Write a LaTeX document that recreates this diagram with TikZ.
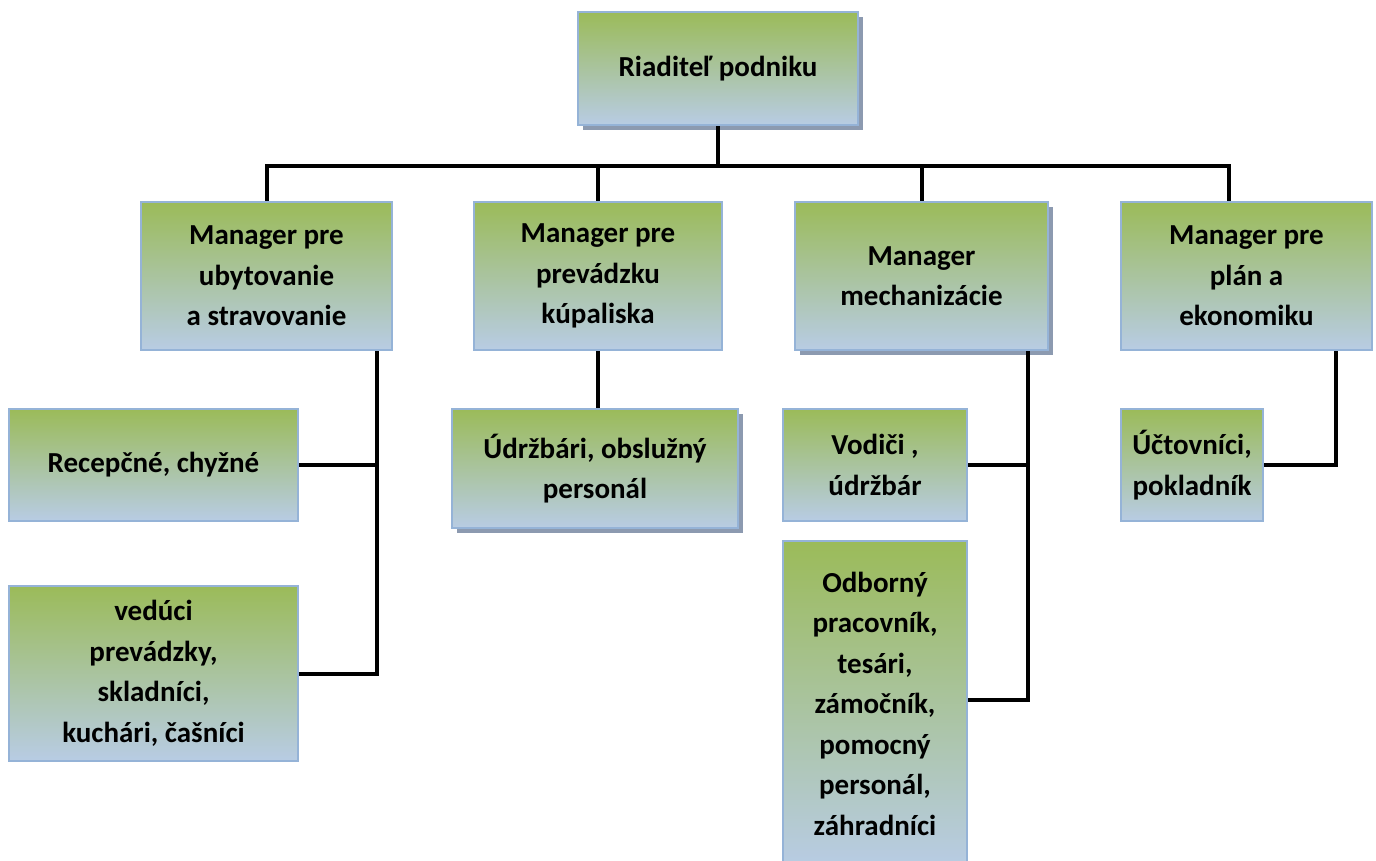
\documentclass[tikz,border=0pt]{standalone}
\usepackage{fontspec}
\setmainfont{Carlito}
\usetikzlibrary{shadows}
\definecolor{gtop}{RGB}{155,187,89}
\definecolor{bbot}{RGB}{184,204,228}
\definecolor{bord}{RGB}{149,179,215}
\definecolor{shad}{RGB}{140,154,176}
\tikzset{
  box/.style={draw=bord, line width=2.5pt, top color=gtop, bottom color=bbot,
    align=center, inner sep=0pt, text=black,
    font=\fontsize{29}{40.5}\selectfont\bfseries},
  shbox/.style={box, drop shadow={shadow xshift=5pt, shadow yshift=-5pt, fill=shad, opacity=1}},
  conn/.style={line width=4pt, black},
}
\begin{document}
\begin{tikzpicture}[x=1pt, y=-1pt]
\useasboundingbox (0,0) rectangle (1376,861);
% boxes
\node[shbox, minimum width=280pt, minimum height=113pt] (top) at (718,68.5) {Riaditeľ podniku};
\node[box, minimum width=251pt, minimum height=148pt] (m1) at (266.5,276) {Manager pre\\ubytovanie\\a stravovanie};
\node[box, minimum width=248pt, minimum height=148pt] (m2) at (598,276) {Manager pre\\prevádzku\\kúpaliska};
\node[shbox, minimum width=253pt, minimum height=148pt] (m3) at (921.5,276) {Manager\\mechanizácie};
\node[box, minimum width=251pt, minimum height=148pt] (m4) at (1246.5,276) {Manager pre\\plán a\\ekonomiku};
\node[box, minimum width=289pt, minimum height=112pt] (rec) at (153.5,465) {Recepčné, chyžné};
\node[box, minimum width=289pt, minimum height=175pt] (ved) at (153.5,673.5) {vedúci\\prevádzky,\\skladníci,\\kuchári, čašníci};
\node[shbox, minimum width=286pt, minimum height=119pt] (udr) at (595,468.5) {Údržbári, obslužný\\personál};
\node[box, minimum width=184pt, minimum height=112pt] (vod) at (875,465) {Vodiči ,\\údržbár};
\node[box, minimum width=184pt, minimum height=325pt] (odb) at (875,703.5) {Odborný\\pracovník,\\tesári,\\zámočník,\\pomocný\\personál,\\záhradníci};
\node[box, minimum width=142pt, minimum height=112pt] (uct) at (1192,465) {Účtovníci,\\pokladník};
% connectors
\coordinate (bus) at (718,166);
\draw[conn] (top.south) -- (bus);
\draw[conn] (m1.north) |- (bus) -| ([xshift=-17.5pt]m4.north);
\draw[conn] (m2.north) -- (m2.north |- bus);
\draw[conn] (m3.north) -- (m3.north |- bus);
% manager 1 children
\coordinate (m1v) at ([xshift=110.5pt]m1.south);
\draw[conn] (m1v) |- (ved.east);
\draw[conn] (rec.east) -- (rec.east -| m1v);
% manager 2 child
\draw[conn] (m2.south) -- (m2.south |- udr.north);
% manager 3 children
\coordinate (m3v) at ([xshift=106.5pt]m3.south);
\draw[conn] (m3v) |- ([yshift=4pt]odb.east);
\draw[conn] (vod.east) -- (vod.east -| m3v);
% manager 4 child
\draw[conn] ([xshift=89.5pt]m4.south) |- (uct.east);
\end{tikzpicture}
\end{document}
